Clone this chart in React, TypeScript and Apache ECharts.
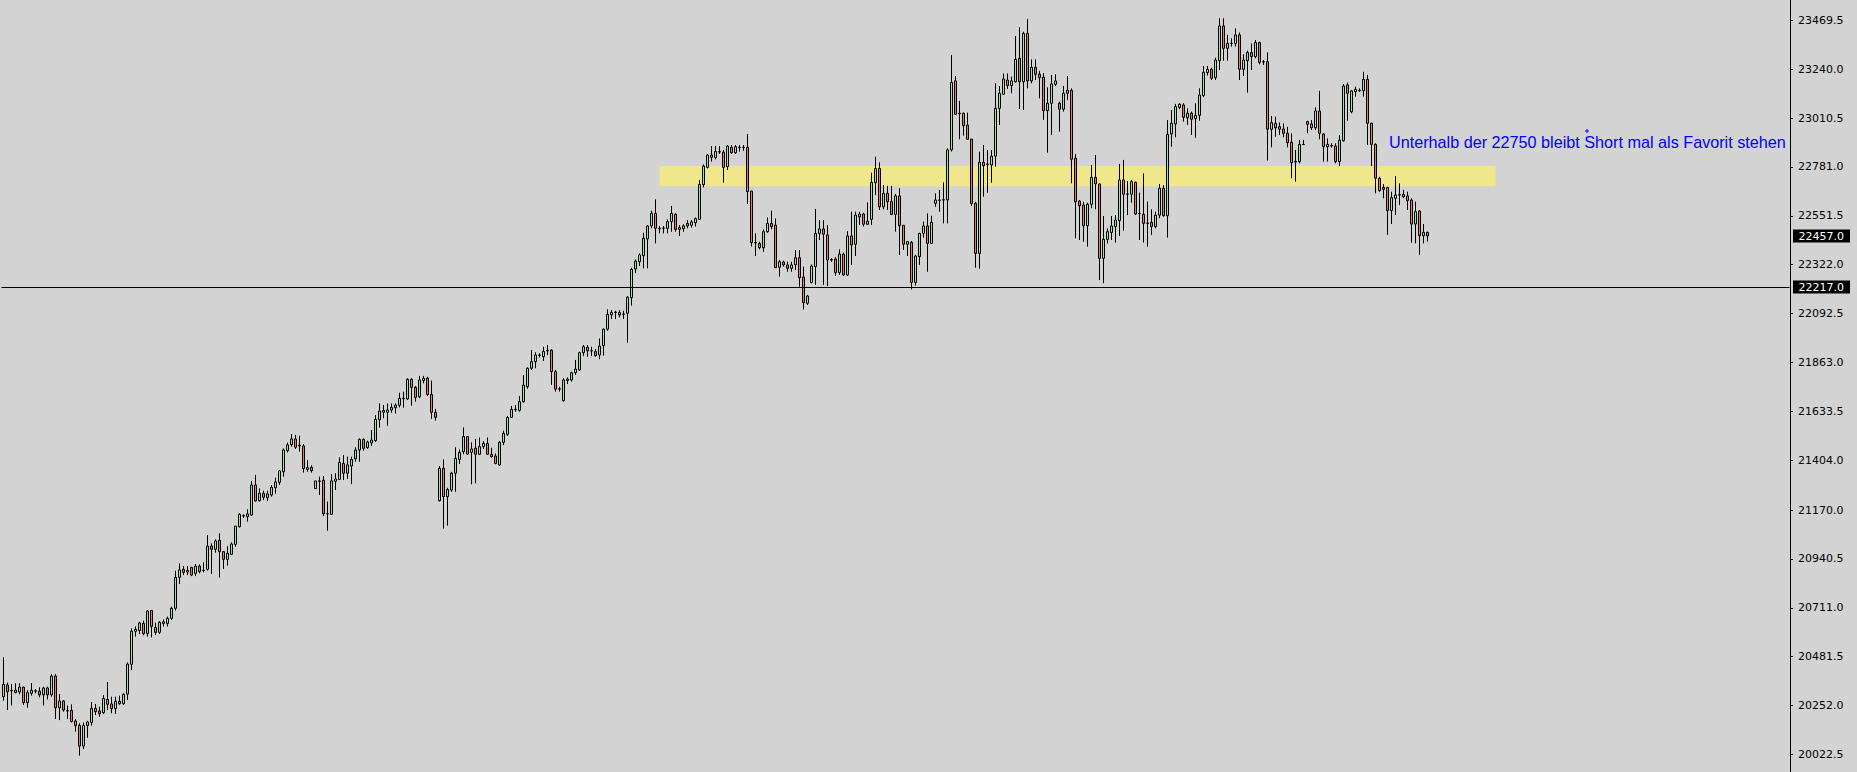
import React, { useEffect, useRef } from 'react';
import * as echarts from 'echarts';

const opens = [
  20294, 20349, 20323, 20325, 20316, 20339, 20266, 20310, 20320, 20320,
  20303, 20335, 20303, 20391, 20242, 20274, 20228, 20230, 20180, 20159,
  20062, 20158, 20173, 20239, 20227, 20219, 20281, 20260, 20238, 20272,
  20261, 20306, 20446, 20601, 20605, 20638, 20591, 20699, 20619, 20596,
  20638, 20638, 20662, 20709, 20854, 20892, 20879, 20901, 20873, 20907,
  20887, 20892, 21001, 20986, 21028, 20975, 20939, 20962, 21009, 21092,
  21142, 21139, 21147, 21288, 21214, 21249, 21228, 21241, 21275, 21300,
  21350, 21449, 21477, 21504, 21474, 21471, 21361, 21371, 21271, 21307,
  21310, 21153, 21150, 21305, 21314, 21389, 21343, 21377, 21411, 21452,
  21502, 21463, 21486, 21496, 21594, 21629, 21629, 21640, 21651, 21662,
  21693, 21692, 21784, 21746, 21702, 21778, 21789, 21713, 21629, 21214,
  21366, 21233, 21264, 21343, 21408, 21444, 21515, 21441, 21461, 21432,
  21468, 21483, 21432, 21424, 21382, 21488, 21526, 21605, 21641, 21638,
  21679, 21749, 21836, 21867, 21897, 21890, 21918, 21921, 21820, 21738,
  21684, 21778, 21781, 21815, 21828, 21909, 21934, 21918, 21914, 21898,
  21942, 22019, 22087, 22100, 22098, 22091, 22094, 22167, 22302, 22336,
  22364, 22443, 22504, 22563, 22491, 22493, 22493, 22524, 22559, 22488,
  22491, 22516, 22507, 22519, 22535, 22698, 22779, 22837, 22826, 22851,
  22850, 22782, 22873, 22848, 22872, 22873, 22873, 22668, 22426, 22422,
  22402, 22477, 22516, 22508, 22310, 22335, 22321, 22305, 22322, 22355,
  22264, 22141, 22238, 22313, 22469, 22490, 22462, 22346, 22349, 22285,
  22372, 22274, 22457, 22418, 22547, 22560, 22512, 22535, 22707, 22774,
  22594, 22657, 22618, 22558, 22645, 22507, 22418, 22427, 22239, 22360,
  22469, 22504, 22422, 22610, 22624, 22627, 22626, 22861, 23185, 23034,
  23033, 22978, 22912, 22610, 22375, 22803, 22795, 22790, 22832, 23056,
  23122, 23189, 23163, 23181, 23291, 23181, 23408, 23185, 23249, 23216,
  23202, 23045, 23080, 23169, 23080, 23052, 23127, 23141, 22822, 22621,
  22602, 22505, 22606, 22732, 22701, 22352, 22441, 22473, 22501, 22529,
  22720, 22654, 22653, 22709, 22563, 22559, 22518, 22521, 22501, 22555,
  22681, 22552, 22936, 22983, 23060, 23072, 23012, 23033, 23008, 23023,
  23116, 23224, 23239, 23200, 23280, 23443, 23338, 23360, 23361, 23401,
  23239, 23280, 23318, 23299, 23365, 23275, 23275, 22958, 22986, 22970,
  22959, 22939, 22897, 22807, 22806, 22886, 22994, 22983, 22965, 23044,
  22936, 22876, 22881, 22879, 22806, 22904, 23166, 23040, 23134, 23139,
  23139, 23192, 22986, 22887, 22728, 22685, 22684, 22576, 22634, 22651,
  22652, 22645, 22626, 22513, 22574, 22458, 22474,
];

const closes = [
  20352, 20317, 20321, 20313, 20339, 20266, 20313, 20324, 20322, 20303,
  20335, 20303, 20391, 20242, 20274, 20231, 20227, 20177, 20158, 20062,
  20159, 20175, 20239, 20224, 20214, 20286, 20258, 20238, 20272, 20261,
  20305, 20447, 20602, 20610, 20640, 20590, 20696, 20624, 20596, 20643,
  20646, 20662, 20709, 20854, 20889, 20878, 20887, 20865, 20907, 20881,
  20886, 21001, 20986, 21025, 20975, 20939, 20967, 21011, 21095, 21150,
  21144, 21152, 21288, 21213, 21249, 21230, 21246, 21277, 21302, 21354,
  21452, 21476, 21504, 21465, 21471, 21365, 21369, 21355, 21307, 21305,
  21153, 21152, 21307, 21316, 21394, 21343, 21382, 21408, 21452, 21502,
  21460, 21490, 21499, 21596, 21635, 21638, 21640, 21652, 21663, 21695,
  21695, 21784, 21746, 21699, 21781, 21789, 21713, 21629, 21605, 21366,
  21233, 21267, 21343, 21413, 21441, 21516, 21433, 21457, 21432, 21468,
  21483, 21432, 21421, 21389, 21488, 21530, 21605, 21643, 21643, 21679,
  21757, 21836, 21867, 21898, 21898, 21915, 21920, 21820, 21738, 21740,
  21781, 21785, 21815, 21832, 21909, 21937, 21918, 21917, 21895, 21940,
  22019, 22089, 22098, 22098, 22086, 22089, 22169, 22300, 22339, 22368,
  22446, 22504, 22563, 22493, 22493, 22494, 22524, 22563, 22488, 22496,
  22504, 22504, 22523, 22538, 22699, 22785, 22837, 22826, 22854, 22853,
  22779, 22879, 22848, 22876, 22873, 22872, 22665, 22426, 22424, 22402,
  22477, 22516, 22501, 22308, 22336, 22321, 22305, 22321, 22355, 22261,
  22144, 22175, 22316, 22469, 22490, 22465, 22344, 22344, 22285, 22372,
  22274, 22457, 22415, 22555, 22560, 22512, 22526, 22709, 22774, 22594,
  22657, 22618, 22558, 22645, 22505, 22418, 22430, 22239, 22363, 22469,
  22504, 22422, 22521, 22626, 22626, 22626, 22861, 23178, 23028, 23031,
  22975, 22911, 22610, 22375, 22803, 22787, 22793, 22832, 23056, 23127,
  23194, 23163, 23185, 23286, 23181, 23408, 23185, 23249, 23216, 23200,
  23045, 23080, 23171, 23185, 23052, 23127, 23141, 22817, 22618, 22599,
  22505, 22606, 22732, 22701, 22352, 22441, 22477, 22504, 22532, 22720,
  22653, 22653, 22712, 22560, 22562, 22516, 22516, 22501, 22555, 22681,
  22552, 22934, 22986, 23064, 23075, 23014, 23033, 23005, 23023, 23119,
  23225, 23239, 23197, 23283, 23443, 23338, 23361, 23361, 23401, 23239,
  23283, 23318, 23299, 23365, 23272, 23274, 22958, 22989, 22965, 22958,
  22939, 22895, 22801, 22804, 22887, 22887, 22981, 22965, 23044, 22939,
  22876, 22887, 22879, 22806, 22907, 23161, 23127, 23138, 23145, 23141,
  23192, 22986, 22887, 22728, 22670, 22676, 22576, 22637, 22649, 22649,
  22641, 22623, 22513, 22571, 22458, 22474, 22457,
];

const lows = [
  20275, 20231, 20252, 20310, 20305, 20255, 20242, 20299, 20310, 20291,
  20252, 20281, 20294, 20189, 20184, 20224, 20189, 20173, 20130, 20017,
  20048, 20101, 20158, 20208, 20200, 20213, 20231, 20216, 20213, 20256,
  20255, 20278, 20419, 20576, 20588, 20582, 20576, 20572, 20583, 20588,
  20623, 20623, 20654, 20698, 20823, 20865, 20865, 20860, 20860, 20873,
  20878, 20886, 20870, 20970, 20853, 20893, 20909, 20959, 20998, 21088,
  21133, 21116, 21142, 21210, 21210, 21217, 21213, 21233, 21247, 21288,
  21327, 21440, 21468, 21457, 21444, 21346, 21350, 21346, 21271, 21241,
  21142, 21073, 21147, 21264, 21311, 21311, 21316, 21292, 21397, 21397,
  21449, 21458, 21471, 21491, 21557, 21601, 21566, 21627, 21623, 21652,
  21651, 21687, 21660, 21679, 21695, 21765, 21706, 21598, 21590, 21210,
  21083, 21097, 21256, 21256, 21386, 21432, 21429, 21291, 21296, 21429,
  21457, 21429, 21416, 21385, 21377, 21475, 21518, 21604, 21632, 21632,
  21674, 21740, 21828, 21836, 21886, 21870, 21898, 21757, 21726, 21726,
  21679, 21762, 21773, 21804, 21823, 21893, 21890, 21893, 21890, 21878,
  21895, 22012, 22067, 22067, 22075, 22067, 21956, 22130, 22282, 22316,
  22305, 22305, 22493, 22422, 22469, 22469, 22469, 22477, 22477, 22457,
  22477, 22493, 22496, 22501, 22532, 22685, 22774, 22806, 22817, 22842,
  22707, 22767, 22842, 22842, 22853, 22857, 22607, 22407, 22363, 22394,
  22382, 22472, 22488, 22308, 22266, 22313, 22289, 22289, 22297, 22219,
  22112, 22133, 22235, 22227, 22438, 22227, 22222, 22336, 22269, 22274,
  22269, 22269, 22321, 22363, 22508, 22501, 22508, 22508, 22649, 22579,
  22582, 22579, 22555, 22477, 22368, 22391, 22363, 22206, 22224, 22321,
  22449, 22289, 22419, 22594, 22571, 22516, 22516, 22853, 23025, 22911,
  22928, 22908, 22598, 22308, 22303, 22641, 22660, 22707, 22782, 22978,
  23119, 23147, 23127, 23177, 23053, 23048, 23150, 23174, 23189, 23103,
  23002, 22848, 22931, 23161, 22947, 23041, 23095, 22704, 22446, 22438,
  22430, 22407, 22587, 22582, 22250, 22235, 22422, 22438, 22426, 22457,
  22482, 22555, 22613, 22555, 22438, 22426, 22407, 22462, 22493, 22540,
  22548, 22449, 22876, 22920, 23052, 22994, 22978, 22931, 22918, 22998,
  23108, 23210, 23189, 23189, 23236, 23280, 23280, 23346, 23346, 23189,
  23208, 23130, 23236, 23291, 23263, 23260, 22811, 22873, 22923, 22931,
  22920, 22873, 22728, 22712, 22798, 22884, 22939, 22954, 22954, 22911,
  22806, 22806, 22872, 22798, 22785, 22900, 22998, 23033, 23111, 23134,
  23111, 22884, 22785, 22657, 22665, 22634, 22462, 22513, 22555, 22602,
  22634, 22579, 22425, 22422, 22368, 22422, 22430,
];

const highs = [
  20479, 20360, 20353, 20357, 20357, 20341, 20325, 20358, 20330, 20338,
  20341, 20341, 20400, 20400, 20306, 20278, 20253, 20258, 20189, 20169,
  20173, 20181, 20269, 20260, 20247, 20302, 20363, 20294, 20294, 20299,
  20310, 20455, 20615, 20624, 20646, 20651, 20701, 20701, 20641, 20649,
  20657, 20670, 20717, 20885, 20920, 20907, 20907, 20904, 20917, 20915,
  20925, 21053, 21014, 21033, 21061, 20978, 21001, 21019, 21095, 21155,
  21150, 21174, 21307, 21335, 21272, 21261, 21261, 21288, 21322, 21358,
  21460, 21487, 21527, 21523, 21519, 21480, 21405, 21380, 21307, 21327,
  21330, 21210, 21339, 21343, 21418, 21429, 21421, 21421, 21465, 21507,
  21507, 21496, 21546, 21616, 21671, 21663, 21671, 21671, 21671, 21721,
  21726, 21789, 21789, 21753, 21800, 21800, 21796, 21778, 21645, 21377,
  21408, 21275, 21350, 21465, 21455, 21558, 21518, 21488, 21504, 21511,
  21494, 21511, 21463, 21436, 21494, 21543, 21612, 21659, 21663, 21706,
  21804, 21840, 21922, 21911, 21906, 21937, 21945, 21925, 21828, 21749,
  21789, 21793, 21820, 21875, 21914, 21945, 21945, 21937, 21925, 21976,
  22023, 22113, 22109, 22106, 22109, 22106, 22175, 22308, 22347, 22375,
  22472, 22508, 22576, 22629, 22504, 22504, 22535, 22598, 22563, 22508,
  22512, 22532, 22532, 22544, 22720, 22793, 22842, 22879, 22879, 22879,
  22861, 22883, 22884, 22884, 22884, 22884, 22936, 22668, 22469, 22430,
  22488, 22544, 22576, 22540, 22344, 22341, 22336, 22336, 22391, 22391,
  22313, 22180, 22324, 22584, 22532, 22532, 22508, 22352, 22357, 22394,
  22379, 22480, 22571, 22571, 22571, 22566, 22615, 22754, 22829, 22803,
  22696, 22692, 22692, 22654, 22681, 22508, 22433, 22433, 22368, 22472,
  22524, 22563, 22552, 22657, 22673, 22709, 22868, 23307, 23208, 23091,
  23036, 23036, 22912, 22618, 22853, 22884, 22861, 22861, 23174, 23161,
  23220, 23220, 23205, 23396, 23437, 23416, 23476, 23286, 23286, 23232,
  23221, 23155, 23213, 23216, 23088, 23161, 23208, 23150, 22842, 22626,
  22618, 22613, 22790, 22837, 22704, 22551, 22493, 22551, 22555, 22795,
  22814, 22715, 22720, 22712, 22660, 22751, 22618, 22582, 22571, 22701,
  22696, 23001, 23048, 23077, 23080, 23080, 23056, 23041, 23080, 23150,
  23255, 23255, 23247, 23294, 23479, 23479, 23401, 23385, 23432, 23412,
  23310, 23327, 23361, 23377, 23369, 23283, 23319, 23020, 23017, 22990,
  22986, 22970, 22939, 22861, 22908, 22908, 22998, 23001, 23061, 23138,
  22939, 22915, 22892, 22892, 22931, 23170, 23177, 23142, 23158, 23150,
  23228, 23213, 22989, 22892, 22735, 22701, 22688, 22665, 22738, 22704,
  22673, 22665, 22634, 22618, 22579, 22513, 22477,
];

const yTickValues = [
  20022.5, 20252.0, 20481.5, 20711.0, 20940.5, 21170.0, 21404.0, 21633.5,
  21863.0, 22092.5, 22322.0, 22551.5, 22781.0, 23010.5, 23240.0, 23469.5,
];

const SLOT_COUNT = 447;
const categories = Array.from({ length: SLOT_COUNT }, (_, i) => String(i));

const bandFromSlot = '164';
const bandToSlot = '373';
const bandHigh = 22785;
const bandLow = 22690;
const levelLine = 22217.0;
const bidPrice = 22457.0;
const noteText = 'Unterhalb der 22750 bleibt Short mal als Favorit stehen';

const Y_MIN = 19940.4;
const Y_MAX = 23564.8;

export default function App() {
  const ref = useRef<HTMLDivElement>(null);

  useEffect(() => {
    if (!ref.current) return;
    const chart = echarts.init(ref.current, null, { renderer: 'svg' });
    const candleData = opens.map((o, i) => [o, closes[i], lows[i], highs[i]]);

    chart.setOption({
      animation: false,
      backgroundColor: '#d3d3d3',
      grid: { left: 1.5, right: 67.5, top: 0, bottom: 0, containLabel: false },
      xAxis: {
        type: 'category',
        data: categories,
        boundaryGap: true,
        show: false,
      },
      yAxis: {
        type: 'value',
        position: 'right',
        offset: 0.5,
        min: Y_MIN,
        max: Y_MAX,
        axisLine: { show: true, lineStyle: { color: '#000', width: 1 } },
        axisTick: {
          show: true,
          inside: false,
          length: 3,
          lineStyle: { color: '#000', width: 1 },
          customValues: yTickValues,
        },
        axisLabel: {
          customValues: yTickValues,
          formatter: (v: number) => Number(v).toFixed(1),
          color: '#000',
          fontFamily: 'DejaVu Sans',
          fontSize: 11,
          margin: 8,
          hideOverlap: false,
          showMinLabel: true,
          showMaxLabel: true,
        },
        splitLine: { show: false },
      },
      series: [
        {
          type: 'candlestick',
          data: candleData,
          barWidth: 2,
          itemStyle: {
            color: '#90ee90',
            color0: '#ee7a52',
            borderColor: '#000',
            borderColor0: '#000',
            borderColorDoji: '#000',
            borderWidth: 1,
          },
          emphasis: { disabled: true },
          markArea: {
            silent: true,
            label: { show: false },
            itemStyle: { color: '#f0e68c', opacity: 1 },
            data: [[{ xAxis: bandFromSlot, yAxis: bandHigh }, { xAxis: bandToSlot, yAxis: bandLow }]],
          },
          markLine: {
            silent: true,
            symbol: ['none', 'none'],
            label: { show: false },
            lineStyle: { color: '#000', width: 1, type: 'solid' },
            emphasis: { disabled: true },
            data: [{ yAxis: levelLine }],
          },
        },
      ],
    });

    const yBid = chart.convertToPixel({ yAxisIndex: 0 }, bidPrice) as number;
    const yLevel = chart.convertToPixel({ yAxisIndex: 0 }, levelLine) as number;

    const priceBox = (y: number, value: number) => ({
      type: 'group',
      children: [
        {
          type: 'rect',
          shape: { x: 1793, y: Math.round(y) - 6.5, width: 57, height: 13 },
          style: { fill: '#000' },
        },
        {
          type: 'text',
          x: 1798.5,
          y: Math.round(y) + 0.5,
          style: {
            text: value.toFixed(1),
            fill: '#fff',
            fontFamily: 'DejaVu Sans',
            fontSize: 11,
            verticalAlign: 'middle',
            align: 'left',
          },
        },
      ],
    });

    chart.setOption({
      graphic: [
        priceBox(yBid, bidPrice),
        priceBox(yLevel, levelLine),
        {
          type: 'text',
          x: 1389,
          y: 141.5,
          z: 100,
          style: {
            text: noteText,
            fill: '#0000ff',
            fontFamily: 'Liberation Sans',
            fontSize: 16.2,
            verticalAlign: 'middle',
            align: 'left',
          },
        },
        {
          type: 'rect',
          z: 100,
          shape: { x: 1586, y: 130, width: 2, height: 2 },
          style: { fill: 'none', stroke: '#0000ff', lineWidth: 1 },
        },
      ],
    });

    return () => chart.dispose();
  }, []);

  return (
    <div
      ref={ref}
      style={{ position: 'fixed', left: 0, top: 0, width: 1857, height: 772 }}
    />
  );
}
